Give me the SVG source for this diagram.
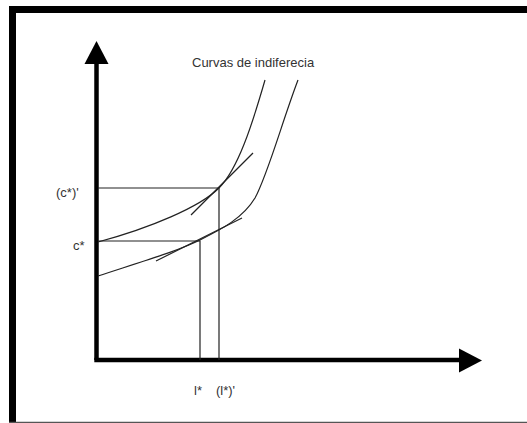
<svg xmlns="http://www.w3.org/2000/svg" width="527" height="423" viewBox="0 0 527 423">
<style>
.lbl{font-family:"Liberation Sans",Arial,sans-serif;font-size:13px;fill:#333}
.thin{stroke:#222;stroke-width:1.2;fill:none}
.axis{stroke:#000;stroke-width:4.5;fill:none}
</style>
<rect width="527" height="423" fill="#fff"/>
<g id="frame">
<rect x="9" y="6" width="518" height="7" fill="#000"/>
<rect x="9" y="6" width="7" height="417" fill="#000"/>
<line x1="9" y1="422.5" x2="527" y2="422.5" stroke="#555" stroke-width="1.5"/>
</g>
<g id="connectors">
<line class="axis" x1="96.5" y1="62" x2="96.5" y2="360"/>
<polygon points="96.5,41 84.5,64 108.5,64" fill="#000"/>
<line class="axis" x1="94.3" y1="360" x2="460" y2="360"/>
<polygon points="482,360.5 459,348.5 459,372.5" fill="#000"/>
<polyline class="thin" points="98,188 219,188 219,360"/>
<polyline class="thin" points="98,241 200,241 200,360"/>
<path class="thin" d="M98,242 C150,228 200,207 219,188 C238,169 252,125 265,80"/>
<path class="thin" d="M98,276 C150,259 180,250 200,240 C222,229 243,218 255,198 C268,174 282,122 298,80"/>
<line class="thin" x1="191" y1="215" x2="253" y2="153"/>
<line class="thin" x1="156" y1="261" x2="242" y2="218"/>
</g>
<g id="labels">
<text class="lbl" x="192" y="67" font-size="14">Curvas de indiferecia</text>
<text class="lbl" x="56" y="197">(c*)'</text>
<text class="lbl" x="73" y="250">c*</text>
<text class="lbl" x="194" y="395">l*</text>
<text class="lbl" x="216" y="395">(l*)'</text>
</g>
</svg>
